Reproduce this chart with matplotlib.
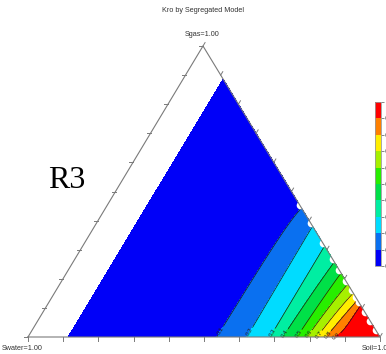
import numpy as np
import matplotlib
matplotlib.use("Agg")
import matplotlib.pyplot as plt
from matplotlib.colors import ListedColormap, BoundaryNorm

# Relative permeability tables (oil saturation at which kr reaches each level)
kr_levels = [0.0, 0.1, 0.2, 0.3, 0.4, 0.5, 0.6, 0.7, 0.8, 0.9, 1.0]
so_krow = [0.114, 0.537, 0.622, 0.688, 0.724, 0.764, 0.793, 0.821, 0.847, 0.872, 1.0]
so_krog = [0.114, 0.557, 0.619, 0.687, 0.742, 0.780, 0.818, 0.849, 0.873, 0.890, 1.0]
band_colors = ["#0000f8", "#0a70f0", "#00dcff", "#00eea2", "#00e048",
               "#28ee00", "#a6f000", "#ffee00", "#ff8000", "#ff0000"]
edge_gaps_so = [0.925, 0.955, 0.985]

title = "Kro by Segregated Model"
corner_labels = ["Swater=1.00", "Sgas=1.00", "Soil=1.00"]
tag = "R3"

W, H = 386, 354
fig = plt.figure(figsize=(W / 100, H / 100), dpi=100)
ax = fig.add_axes([0, 0, 1, 1])
ax.set_xlim(0, W)
ax.set_ylim(H, 0)
ax.axis("off")

plt.rcParams["font.family"] = ["Liberation Sans", "DejaVu Sans"]

# ternary vertices (pixel layout)
PW = np.array([28.0, 337.0])   # Swater = 1
PG = np.array([203.0, 46.0])   # Sgas = 1
PO = np.array([380.0, 337.0])  # Soil = 1


def to_xy(sw, sg, so):
    x = sw * PW[0] + sg * PG[0] + so * PO[0]
    y = sw * PW[1] + sg * PG[1] + so * PO[1]
    return x, y


def krow(so):
    return np.interp(so, so_krow, kr_levels)


def krog(so):
    return np.interp(so, so_krog, kr_levels)


# curvilinear mesh over the valid region: So >= So_min, f = Sg/(Sg+Sw)
so = np.linspace(so_krow[0], 1.0, 400)
f = np.linspace(0.0, 1.0, 160)
SO, F = np.meshgrid(so, f)
SG = (1 - SO) * F
SW = (1 - SO) * (1 - F)
KRO = F * krog(SO) + (1 - F) * krow(SO)
X, Y = to_xy(SW, SG, SO)

cmap = ListedColormap(band_colors)
norm = BoundaryNorm(kr_levels, cmap.N)
cf = ax.contourf(X, Y, KRO, levels=kr_levels, cmap=cmap, norm=norm, zorder=1)
cl = ax.contour(X, Y, KRO, levels=kr_levels[1:-1], colors="#1a1a1a",
                linewidths=0.5, zorder=2)

# contour labels near the water-oil edge
fl = 0.045
label_pos = []
for i in range(1, len(kr_levels) - 1):
    s = (1 - fl) * so_krow[i] + fl * so_krog[i]
    label_pos.append(to_xy((1 - s) * (1 - fl), (1 - s) * fl, s))
ax.clabel(cl, levels=kr_levels[1:-1], fmt="%.1f", fontsize=4.3,
          manual=label_pos, inline=True, inline_spacing=1, colors="#202020")

# white notches along the gas-oil edge
gap_so = list(so_krog[1:-1]) + edge_gaps_so
gx, gy = to_xy(np.zeros(len(gap_so)), 1 - np.array(gap_so) + 0.01, np.array(gap_so) - 0.01)
ax.plot(gx, gy, "o", ms=5.5, color="white", mec="none", zorder=3)

# triangle frame
tri = np.array([PW, PG, PO, PW])
ax.plot(tri[:, 0], tri[:, 1], color="#7a7a7a", lw=0.8, zorder=4)

# ticks on each edge
tl = 4.0
dG = (PG - PW) / np.linalg.norm(PG - PW)
for k in range(11):
    t = k / 10
    p = PW + t * (PG - PW)
    ax.plot([p[0], p[0] - tl], [p[1], p[1]], color="#7a7a7a", lw=0.7, zorder=4)
    p = PG + t * (PO - PG)
    ax.plot([p[0], p[0] + tl * dG[0]], [p[1], p[1] + tl * dG[1]],
            color="#7a7a7a", lw=0.7, zorder=4)
    p = PW + t * (PO - PW)
    ax.plot([p[0], p[0]], [p[1], p[1] + tl], color="#7a7a7a", lw=0.7, zorder=4)

# texts
txt_color = "#333333"
ax.text(203, 11, title, ha="center", va="center", fontsize=5.2, color=txt_color)
ax.text(PG[0] - 1, 34, corner_labels[1], ha="center", va="center", fontsize=5.2,
        color=txt_color)
ax.text(2, 348, corner_labels[0], ha="left", va="center", fontsize=5.2,
        color=txt_color)
ax.text(362, 348, corner_labels[2], ha="left", va="center", fontsize=5.2,
        color=txt_color, clip_on=False)
ax.text(12, -3, corner_labels[0], ha="left", va="center", fontsize=5.2,
        color="#999999")
ax.text(348, -3, corner_labels[2], ha="left", va="center", fontsize=5.2,
        color="#999999")
ax.text(67, 180, tag, ha="center", va="center", fontsize=23,
        family=["Liberation Serif", "DejaVu Serif"], color="black")

# colorbar
cax = fig.add_axes([375 / W, 1 - 266 / H, 6 / W, 164 / H])
cb = fig.colorbar(cf, cax=cax, ticks=kr_levels)
cb.ax.set_yticklabels(["%.1f" % v for v in kr_levels])
cb.ax.tick_params(labelsize=4.5, length=2, width=0.5, pad=1, colors="#555555")
cb.outline.set_edgecolor("#999999")
cb.outline.set_linewidth(0.6)

fig.savefig("out.png", dpi=100)
